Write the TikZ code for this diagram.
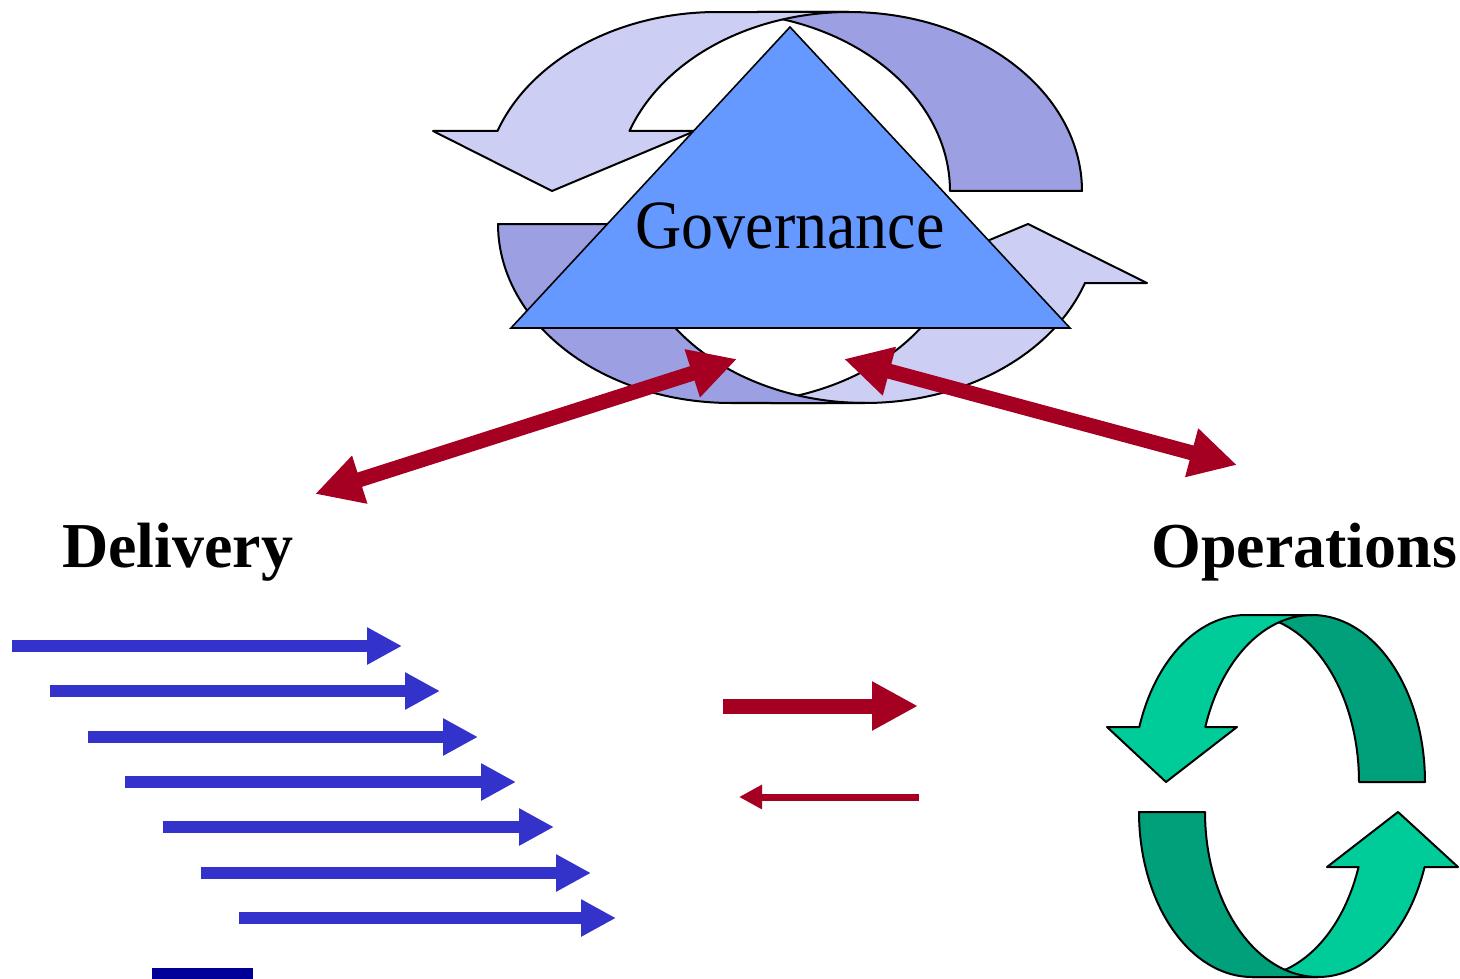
\documentclass[tikz,border=0pt]{standalone}
\usepackage{fontspec}
\setmainfont{Liberation Serif}
\usetikzlibrary{arrows.meta}
\definecolor{govlight}{RGB}{204,206,244}
\definecolor{govdark}{RGB}{156,160,226}
\definecolor{trifill}{RGB}{102,153,255}
\definecolor{redarr}{RGB}{165,0,33}
\definecolor{bluearr}{RGB}{51,51,204}
\definecolor{navybar}{RGB}{0,0,153}
\definecolor{grlight}{RGB}{0,204,153}
\definecolor{grdark}{RGB}{0,160,122}
\tikzset{
  ribbon/.style={draw=black, line width=2pt, line join=round},
  bigred/.style={draw=redarr, line width=15pt, {Triangle[length=47pt,width=47pt]}-{Triangle[length=47pt,width=47pt]}},
  redone/.style={draw=redarr, line width=15pt, -{Triangle[length=46pt,width=46pt]}},
  redsmall/.style={draw=redarr, line width=7pt, -{Triangle[length=23pt,width=23pt]}},
  bluearrow/.style={draw=bluearr, line width=12pt, -{Triangle[length=35pt,width=35pt]}},
  label/.style={inner sep=0pt, font=\bfseries\fontsize{64}{70}\selectfont},
}
\begin{document}
\begin{tikzpicture}[x=1pt,y=-1pt]
\useasboundingbox (0,0) rectangle (1460,979);
% ---------- Governance cycle (upper arrow) ----------
\fill[govdark, ribbon] plot[domain=270:360,samples=60] ({849+233*cos(\x)},{191+179*sin(\x)})
  -- plot[domain=360:270,samples=60] ({717+233*cos(\x)},{191+179*sin(\x)}) -- cycle;
\fill[govlight, ribbon] (629.5,131) -- (695,131) -- (552,191) -- (433,131) -- (497.5,131)
  -- plot[domain=199.6:270,samples=50] ({717+233*cos(\x)},{191+179*sin(\x)})
  -- plot[domain=270:199.6,samples=50] ({849+233*cos(\x)},{191+179*sin(\x)}) -- cycle;
% ---------- Governance cycle (lower arrow) ----------
\fill[govlight, ribbon] (951,283) -- (886,283) -- (1028,224) -- (1147,283) -- (1085,283)
  -- plot[domain=19.25:90,samples=50] ({865+233*cos(\x)},{224+179*sin(\x)})
  -- plot[domain=90:19.25,samples=50] ({731+233*cos(\x)},{224+179*sin(\x)}) -- cycle;
\fill[govdark, ribbon] plot[domain=180:90,samples=60] ({731+233*cos(\x)},{224+179*sin(\x)})
  -- plot[domain=90:180,samples=60] ({865+233*cos(\x)},{224+179*sin(\x)}) -- cycle;
% ---------- Triangle ----------
\filldraw[fill=trifill, draw=black, line width=1.6pt, line join=miter] (511,328) -- (790,27) -- (1070,328) -- cycle;
\node[inner sep=0pt, anchor=base, font=\fontsize{64}{70}\selectfont] (gov) at (790,248) {\scalebox{1}[1.08]{Governance}};
% ---------- Red double arrows ----------
\coordinate (dl) at (315,494);
\coordinate (gl) at (737,359);
\coordinate (gr) at (844,359);
\coordinate (opr) at (1237,465);
\draw[bigred] (dl) -- (gl);
\draw[bigred] (gr) -- (opr);
% ---------- Labels ----------
\node[label, anchor=base west] (delivery) at (62,567) {Delivery};
\node[label, anchor=base west] (operations) at (1151,567) {Operations};
% ---------- Blue delivery arrows ----------
\foreach \i/\xa/\xb/\yy in {1/12/402/646, 2/50/440/691, 3/88/478/737, 4/125/516/782, 5/163/554/827, 6/201/591/873, 7/239/616/918} {
  \coordinate (bs\i) at (\xa,\yy);
  \coordinate (be\i) at (\xb,\yy);
  \draw[bluearrow] (bs\i) -- (be\i);
}
\fill[navybar] (152,968) rectangle (253,979);
% ---------- Middle red arrows ----------
\coordinate (m1a) at (723,706);
\coordinate (m1b) at (918,706);
\coordinate (m2a) at (919,797);
\coordinate (m2b) at (739,797);
\draw[redone] (m1a) -- (m1b);
\draw[redsmall] (m2a) -- (m2b);
% ---------- Operations cycle (upper arrow) ----------
\fill[grdark, ribbon] plot[domain=270:360,samples=60] ({1312+113*cos(\x)},{782+167*sin(\x)})
  -- plot[domain=360:270,samples=60] ({1246+113*cos(\x)},{782+167*sin(\x)}) -- cycle;
\fill[grlight, ribbon] (1205.3,727) -- (1237,727) -- (1166,782) -- (1107,727) -- (1139.3,727)
  -- plot[domain=199.2:270,samples=50] ({1246+113*cos(\x)},{782+167*sin(\x)})
  -- plot[domain=270:199.2,samples=50] ({1312+113*cos(\x)},{782+167*sin(\x)}) -- cycle;
% ---------- Operations cycle (lower arrow) ----------
\fill[grlight, ribbon] (1358.5,867) -- (1327,867) -- (1398,812) -- (1458,867) -- (1424.5,867)
  -- plot[domain=19.47:90,samples=50] ({1318+113*cos(\x)},{812+165*sin(\x)})
  -- plot[domain=90:19.47,samples=50] ({1252+113*cos(\x)},{812+165*sin(\x)}) -- cycle;
\fill[grdark, ribbon] plot[domain=180:90,samples=60] ({1252+113*cos(\x)},{812+165*sin(\x)})
  -- plot[domain=90:180,samples=60] ({1318+113*cos(\x)},{812+165*sin(\x)}) -- cycle;
\end{tikzpicture}
\end{document}
